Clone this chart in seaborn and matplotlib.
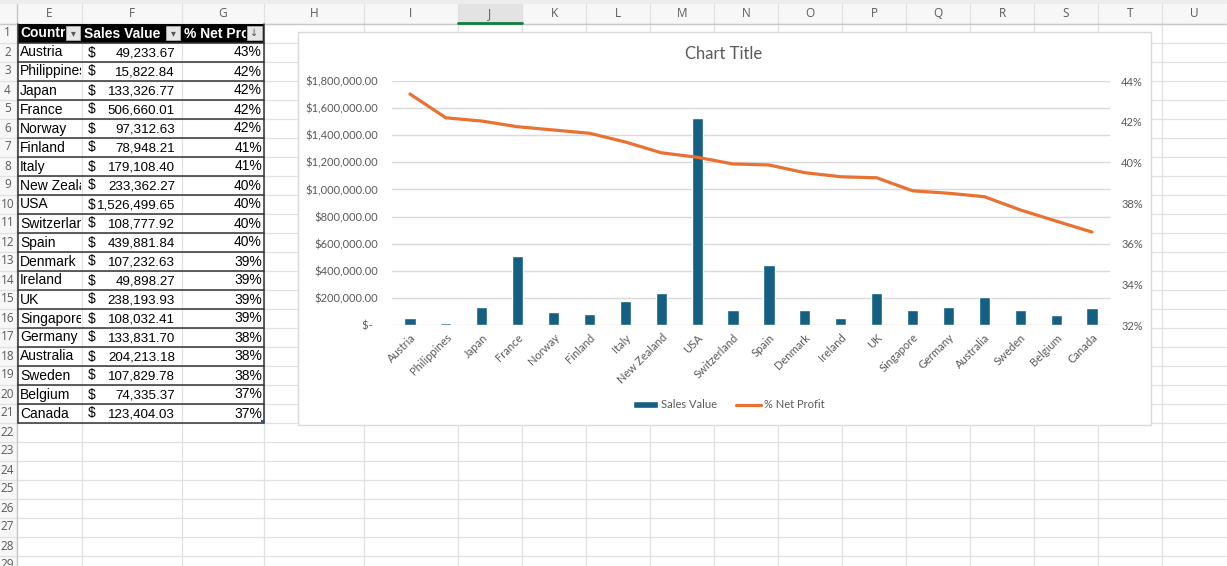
import numpy as np
import pandas as pd
import matplotlib
matplotlib.use("Agg")
import matplotlib.pyplot as plt
from matplotlib.patches import Rectangle
from matplotlib.ticker import FuncFormatter, MultipleLocator
import seaborn as sns

# data
countries = ["Austria", "Philippines", "Japan", "France", "Norway", "Finland", "Italy",
             "New Zealand", "USA", "Switzerland", "Spain", "Denmark", "Ireland", "UK",
             "Singapore", "Germany", "Australia", "Sweden", "Belgium", "Canada"]
sales = [49233.67, 15822.84, 133326.77, 506660.01, 97312.63, 78948.21, 179108.40,
         233362.27, 1526499.65, 108777.92, 439881.84, 107232.63, 49898.27, 238193.93,
         108032.41, 133831.70, 204213.18, 107829.78, 74335.37, 123404.03]
net_profit = [43.36, 42.19, 42.03, 41.75, 41.59, 41.43, 41.00, 40.47, 40.25, 39.92,
              39.87, 39.49, 39.29, 39.24, 38.60, 38.48, 38.31, 37.66, 37.11, 36.57]
headers = ["Country", "Sales Value", "% Net Profit"]
col_letters = ["E", "F", "G", "H", "I", "J", "K", "L", "M", "N", "O", "P", "Q",
               "R", "S", "T", "U"]

df = pd.DataFrame({"Country": countries, "Sales Value": sales, "% Net Profit": net_profit})

W, H = 1227, 566
col_edges = [17, 82, 182, 264, 364, 458, 522, 586, 650, 714, 778, 842, 906, 970,
             1034, 1098, 1162, 1227]
ROW0, RH = 23.5, 19.0

sns.set_style("white")
plt.rcParams["font.family"] = ["Lato", "DejaVu Sans"]
CELL_FONT = ["Liberation Sans", "DejaVu Sans"]
GRAY = "#595959"

fig = plt.figure(figsize=(W / 100, H / 100), dpi=100)
bg = fig.add_axes([0, 0, 1, 1])
bg.set_xlim(0, W)
bg.set_ylim(H, 0)
bg.axis("off")

# ---- spreadsheet background ----
bg.add_patch(Rectangle((0, 0), W, 4, fc="#EDEDED", ec="none", zorder=0))
bg.add_patch(Rectangle((0, 4), W, ROW0 - 4, fc="#F7F7F7", ec="none", zorder=0))
bg.add_patch(Rectangle((0, ROW0), col_edges[0], H, fc="#F7F7F7", ec="none", zorder=0))
# selected column J
bg.add_patch(Rectangle((col_edges[5], 4), col_edges[6] - col_edges[5], ROW0 - 4,
                       fc="#E3E3E3", ec="none", zorder=0.5))
bg.plot([col_edges[5], col_edges[6]], [ROW0 - 1, ROW0 - 1], color="#107C41", lw=2, zorder=2)

for i in range(31):
    y = ROW0 + i * RH
    bg.plot([0, W], [y, y], color="#E1E1E1", lw=0.9, zorder=1)
for x in col_edges:
    bg.plot([x, x], [4, H], color="#E1E1E1", lw=0.9, zorder=1)
bg.plot([0, W], [ROW0, ROW0], color="#C8C8C8", lw=1, zorder=1.2)
bg.plot([col_edges[0], col_edges[0]], [4, H], color="#C8C8C8", lw=1, zorder=1.2)

for i, letter in enumerate(col_letters):
    bg.text((col_edges[i] + col_edges[i + 1]) / 2, 13.5, letter, ha="center", va="center",
            fontsize=8.5, color="#5A5A5A", family=["Open Sans", "DejaVu Sans"], zorder=3)
for r in range(1, 30):
    bg.text(7.5, ROW0 + (r - 0.5) * RH, str(r), ha="center", va="center",
            fontsize=8.5, color="#5A5A5A", family=["Open Sans", "DejaVu Sans"], zorder=3)


def cell_text(x, r, s, x0, x1, size=10, **kw):
    t = bg.text(x, ROW0 + r * RH - 5, s, va="baseline", family=CELL_FONT,
                fontsize=size, zorder=4, **kw)
    clip = Rectangle((x0, ROW0 + (r - 1) * RH), x1 - x0, RH, transform=bg.transData)
    t.set_clip_path(clip)
    t.set_clip_on(True)
    return t


# ---- table ----
tx0, tx1 = col_edges[0] + 0.5, col_edges[3]
bg.add_patch(Rectangle((tx0, ROW0), tx1 - tx0, RH, fc="black", ec="none", zorder=3))
btn = [(66, 80), (166, 180), (247, 262)]
hdr_x = [20, 84, 184]
for j, name in enumerate(headers):
    cell_text(hdr_x[j], 1, name, col_edges[j], btn[j][0] - 1, color="white",
              fontweight="bold")
    bg.add_patch(Rectangle((btn[j][0], ROW0 + 2.5), btn[j][1] - btn[j][0], RH - 5,
                           fc="#E6E6E6", ec="#BDBDBD", lw=0.5, zorder=4))
    bg.text((btn[j][0] + btn[j][1]) / 2, ROW0 + RH / 2, "▾" if j < 2 else "↓",
            ha="center", va="center", fontsize=7, color="#555555",
            family="DejaVu Sans", zorder=5)

for i, c in enumerate(countries):
    r = i + 2
    cell_text(20, r, c, col_edges[0], col_edges[1] - 1, color="black")
    cell_text(88, r, "$", col_edges[1], col_edges[2], color="black")
    cell_text(175, r, f"{sales[i]:,.2f}", col_edges[1], col_edges[2], size=9.6,
              color="black", ha="right")
    cell_text(262, r, f"{round(net_profit[i])}%", col_edges[2], col_edges[3],
              color="black", ha="right")

n_rows = len(countries) + 1
for k in range(1, n_rows + 1):
    y = ROW0 + k * RH
    bg.plot([tx0, tx1], [y, y], color="#333333", lw=1.1, zorder=3.5)
bg.plot([tx0, tx0], [ROW0, ROW0 + n_rows * RH], color="#333333", lw=1.1, zorder=3.5)
bg.plot([tx1, tx1], [ROW0, ROW0 + n_rows * RH], color="#333333", lw=1.1, zorder=3.5)
bg.add_patch(Rectangle((tx1 - 3, ROW0 + n_rows * RH - 3), 3, 3, fc="#2F5597",
                       ec="none", zorder=4))

# ---- chart area ----
bg.add_patch(Rectangle((298, 32), 853, 393, fc="white", ec="#D9D9D9", lw=1, zorder=6))
bg.text(724, 54, "Chart Title", ha="center", va="center", fontsize=12, color=GRAY,
        zorder=7)

ax = fig.add_axes([392 / W, 1 - 325 / H, (1110 - 392) / W, (325 - 81) / H])
ax.set_facecolor("none")
sns.barplot(data=df, x="Country", y="Sales Value", color="#156082", saturation=1,
            width=0.31, ax=ax, label="Sales Value")
ax.set_xlim(-0.5, len(countries) - 0.5)
ax.set_ylim(0, 1800000)
ax.yaxis.set_major_locator(MultipleLocator(200000))
ax.yaxis.set_major_formatter(FuncFormatter(lambda v, p: "$-  " if v == 0 else f"${v:,.2f}"))
ax.grid(axis="y", color="#D9D9D9", lw=1)
ax.set_axisbelow(True)
ax.set(xlabel="", ylabel="")
ax.tick_params(axis="y", length=0, pad=10, labelsize=8, labelcolor=GRAY)
ax.tick_params(axis="x", length=0, pad=5, labelsize=8, labelcolor=GRAY)
for lab in ax.get_xticklabels():
    lab.set_rotation(45)
    lab.set_ha("right")
    lab.set_rotation_mode("anchor")
sns.despine(ax=ax, left=True, bottom=True)

ax2 = ax.twinx()
sns.lineplot(data=df, x="Country", y="% Net Profit", color="#E97132", lw=2.3,
             sort=False, ax=ax2, label="% Net Profit")
ax2.set_ylim(32, 44)
ax2.yaxis.set_major_locator(MultipleLocator(2))
ax2.yaxis.set_major_formatter(FuncFormatter(lambda v, p: f"{v:.0f}%"))
ax2.set(ylabel="")
ax2.grid(False)
ax2.tick_params(axis="y", length=0, pad=8, labelsize=8, labelcolor=GRAY)
for s in ax2.spines.values():
    s.set_visible(False)

h1, l1 = ax.get_legend_handles_labels()
h2, l2 = ax2.get_legend_handles_labels()
for a in (ax, ax2):
    if a.get_legend() is not None:
        a.get_legend().remove()
fig.legend(h1 + h2, l1 + l2, loc="center", bbox_to_anchor=(729 / W, 1 - 405 / H),
           ncol=2, frameon=False, fontsize=8, labelcolor=GRAY, handlelength=2.2,
           handleheight=0.65, handletextpad=0.3, columnspacing=1.7)

fig.savefig("out.png", dpi=100)
